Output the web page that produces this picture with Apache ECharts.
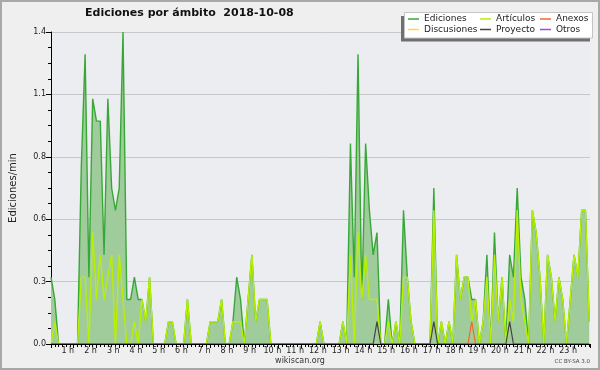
<!DOCTYPE html>
<html><head><meta charset="utf-8">
<script src="https://cdn.jsdelivr.net/npm/echarts@6/dist/echarts.min.js"></script>
<style>html,body{margin:0;padding:0;background:#efefef;}#c{width:600px;height:370px;}</style>
</head><body><div id="c"></div>
<script>
// 10-minute bins, values in edits per minute
const binMinutes = 10;
const ediciones = [
0.3,0.2,0,0,0,0,0,0,0.8,1.3,
0.3,1.1,1.0,1.0,0.4,1.1,0.7,0.6,0.7,1.4,
0.2,0.2,0.3,0.2,0.2,0.1,0.3,0,0,0,
0,0.1,0.1,0,0,0,0.2,0,0,0,
0,0,0.1,0.1,0.1,0.2,0,0,0.1,0.3,
0.2,0,0.2,0.4,0.1,0.2,0.2,0.2,0,0,
0,0,0,0,0,0,0,0,0,0,
0,0.1,0,0,0,0,0,0.1,0,0.9,
0.3,1.3,0.2,0.9,0.6,0.4,0.5,0,0,0.2,
0,0.1,0,0.6,0.3,0.1,0,0,0,0,
0,0.7,0,0.1,0,0.1,0,0.4,0.2,0.3,
0.3,0.2,0.2,0,0.1,0.4,0,0.5,0.1,0.3,
0,0.4,0.3,0.7,0.3,0.2,0,0.6,0.5,0.3,
0,0.4,0.3,0.1,0.3,0.2,0,0.2,0.4,0.3,
0.6,0.6,0.1];
const articulos = [
0,0.1,0,0,0,0,0,0,0.3,0.3,
0,0.5,0.2,0.4,0.2,0.3,0.4,0,0.4,0.2,
0,0,0.1,0,0.2,0.1,0.3,0,0,0,
0,0.1,0.1,0,0,0,0.2,0,0,0,
0,0,0.1,0.1,0.1,0.2,0,0,0.1,0.1,
0.1,0,0.2,0.4,0.1,0.2,0.2,0.2,0,0,
0,0,0,0,0,0,0,0,0,0,
0,0.1,0,0,0,0,0,0.1,0,0.4,
0,0.5,0.2,0.4,0.2,0.2,0.2,0,0,0.1,
0,0.1,0,0.3,0.3,0.1,0,0,0,0,
0,0.6,0,0.1,0,0.1,0,0.4,0.2,0.3,
0.3,0.1,0.2,0,0.1,0.3,0,0.4,0.1,0.3,
0,0.2,0.1,0.6,0.2,0.1,0,0.6,0.5,0.3,
0,0.4,0.3,0.1,0.3,0.2,0,0.2,0.4,0.3,
0.6,0.6,0.1];
const proyecto = [
0,0,0,0,0,0,0,0,0,0,
0,0,0,0,0,0,0,0,0,0,
0,0,0,0,0,0,0,0,0,0,
0,0,0,0,0,0,0,0,0,0,
0,0,0,0,0,0,0,0,0,0,
0,0,0,0,0,0,0,0,0,0,
0,0,0,0,0,0,0,0,0,0,
0,0,0,0,0,0,0,0,0,0,
0,0,0,0,0,0,0.1,0,0,0,
0,0,0,0,0,0,0,0,0,0,
0,0.1,0,0,0,0,0,0,0,0,
0,0,0,0,0,0,0,0,0,0,
0,0.1,0,0,0,0,0,0,0,0,
0,0,0,0,0,0,0,0,0,0,
0,0,0];
const anexos = [
0,0,0,0,0,0,0,0,0,0,
0,0,0,0,0,0,0,0,0,0,
0,0,0,0,0,0,0,0,0,0,
0,0,0,0,0,0,0,0,0,0,
0,0,0,0,0,0,0,0,0,0,
0,0,0,0,0,0,0,0,0,0,
0,0,0,0,0,0,0,0,0,0,
0,0,0,0,0,0,0,0,0,0,
0,0,0,0,0,0,0,0,0,0,
0,0,0,0,0,0,0,0,0,0,
0,0,0,0,0,0,0,0,0,0,
0,0.1,0,0,0,0,0,0,0,0,
0,0,0,0,0,0,0,0,0,0,
0,0,0,0,0,0,0,0,0,0,
0,0,0];
const discusiones = [];
const otros = [];
const hourLabels = ['1 h','2 h','3 h','4 h','5 h','6 h','7 h','8 h','9 h','10 h','11 h','12 h','13 h','14 h','15 h','16 h','17 h','18 h','19 h','20 h','21 h','22 h','23 h'];

const FONT = 'DejaVu Sans';
function pts(arr){ return arr.map((v,i)=>[i*binMinutes, v]); }
function lineSeries(name, arr, color, width, z){
  return {name:name, type:'line', data:pts(arr), symbol:'none', showSymbol:false,
    lineStyle:{color:color, width:width}, itemStyle:{color:color}, z:z};
}
const chart = echarts.init(document.getElementById('c'), null, {renderer:'canvas'});
const edSeries = lineSeries('Ediciones', ediciones, '#37a837', 1.4, 2);
edSeries.areaStyle = {color:'#a0cc9c', opacity:1};
const legendCommon = {orient:'vertical', padding:0, itemGap:0.5, itemWidth:11, itemHeight:1.5, icon:'rect',
  selectedMode:false, z:12, textStyle:{fontFamily:FONT, fontSize:9, color:'#222', lineHeight:10}};
chart.setOption({
  backgroundColor:'#efefef',
  animation:false,
  title:{text:'Ediciones por ámbito  2018-10-08', left:85, top:7, padding:0,
    textStyle:{fontFamily:FONT, fontWeight:'bold', fontSize:11, color:'#111', lineHeight:13}},
  grid:{left:46, right:10, top:32, bottom:26, show:true, backgroundColor:'#ecedf0', borderWidth:0},
  legend:[
    Object.assign({data:['Ediciones','Discusiones'], left:408, top:14}, legendCommon),
    Object.assign({data:['Artículos','Proyecto'], left:480, top:14}, legendCommon),
    Object.assign({data:['Anexos','Otros'], left:540, top:14}, legendCommon)
  ],
  xAxis:{type:'value', min:0, max:1422, interval:60, z:5,
    axisLine:{lineStyle:{color:'#000', width:1}},
    axisTick:{length:4, lineStyle:{color:'#000'}},
    minorTick:{show:true, splitNumber:6, length:3, lineStyle:{color:'#000'}},
    splitLine:{show:false},
    axisLabel:{fontFamily:FONT, fontSize:8, color:'#222', margin:3, padding:[0,12,0,0],
      formatter:function(v){ const h=v/60; return (Number.isInteger(h) && h>=1 && h<=23) ? hourLabels[h-1] : ''; }}},
  yAxis:{type:'value', min:0, max:1.4, interval:0.28,
    name:'Ediciones/min', nameLocation:'middle', nameGap:33,
    nameTextStyle:{fontFamily:FONT, fontSize:10, color:'#222'},
    axisLine:{show:true, lineStyle:{color:'#000'}},
    axisTick:{show:true, length:5, lineStyle:{color:'#000'}},
    minorTick:{show:true, splitNumber:4, length:3, lineStyle:{color:'#000'}},
    splitLine:{show:true, lineStyle:{color:'#c8c8c8'}},
    axisLabel:{fontFamily:FONT, fontSize:8, color:'#222', margin:5, formatter:function(v){ return v.toFixed(1); }}},
  graphic:[
    {type:'rect', silent:true, z:10, shape:{x:401, y:16, width:189, height:25.5}, style:{fill:'#707070'}},
    {type:'rect', silent:true, z:11, shape:{x:404.5, y:12.5, width:188, height:25.5}, style:{fill:'#fff', stroke:'#c4c4c4', lineWidth:1}},
    {type:'text', silent:true, z:10, x:300, y:361, style:{text:'wikiscan.org', fontFamily:FONT, fontSize:8, fill:'#333', textAlign:'center', textVerticalAlign:'middle'}},
    {type:'text', silent:true, z:10, x:590, y:362, style:{text:'CC BY-SA 3.0', fontFamily:FONT, fontSize:5.5, fill:'#444', textAlign:'right', textVerticalAlign:'middle'}},
    {type:'rect', silent:true, z:20, shape:{x:1, y:1, width:598, height:368}, style:{fill:'none', stroke:'#a8a8a8', lineWidth:2}}
  ],
  series:[
    edSeries,
    lineSeries('Artículos', articulos, '#b8f000', 1.4, 3),
    lineSeries('Anexos', anexos, '#f06a28', 1.2, 4),
    lineSeries('Discusiones', discusiones, '#ffd84a', 1.2, 4),
    lineSeries('Proyecto', proyecto, '#444444', 1.2, 4),
    lineSeries('Otros', otros, '#9b4fe0', 1.2, 4)
  ]
});
</script></body></html>
